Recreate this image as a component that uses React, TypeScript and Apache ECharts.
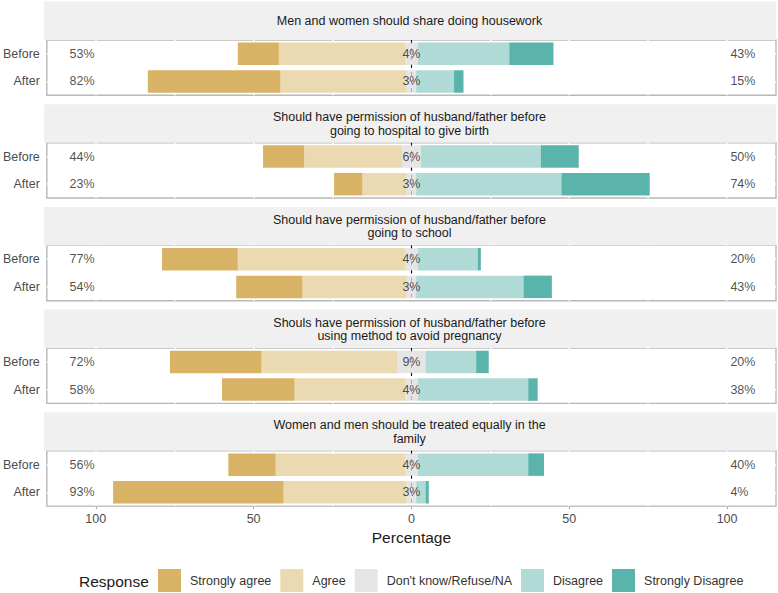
import React, { useEffect, useRef } from "react";
import * as echarts from "echarts";

const facetTitles = [
  "Men and women should share doing housework",
  "Should have permission of husband/father before\ngoing to hospital to give birth",
  "Should have permission of husband/father before\ngoing to school",
  "Shouls have permission of husband/father before\nusing method to avoid pregnancy",
  "Women and men should be treated equally in the\nfamily",
];
const periods = ["Before", "After"];
const responses = ["Strongly agree", "Agree", "Don't know/Refuse/NA", "Disagree", "Strongly Disagree"];
const colors = ["#d8b365", "#ebd9b1", "#e5e5e5", "#b0dad6", "#5ab4ac"];

// [Before, After] per facet
const stronglyAgree = [[13, 42], [13, 9], [24, 21], [29, 23], [15, 54]];
const agree = [[40, 40], [31, 14], [53, 33], [43, 35], [41, 39]];
const neutral = [[4, 3], [6, 3], [4, 3], [9, 4], [4, 3]];
const disagree = [[29, 12], [38, 46], [19, 34], [16, 35], [35, 3]];
const stronglyDisagree = [[14, 3], [12, 28], [1, 9], [4, 3], [5, 1]];

const xTicks = [-100, -50, 0, 50, 100];
const gridLines = [-100, -75, -50, -25, 25, 50, 75, 100];

const PANEL_LEFT = 44;
const PANEL_WIDTH = 732;
const PANEL_TOP0 = 40;
const PANEL_STEP = 102.7;
const PANEL_HEIGHT = 55.3;
const STRIP_HEIGHT = 38.5;
const FONT = "'Liberation Sans', Arial, Helvetica, sans-serif";

export default function App() {
  const ref = useRef<HTMLDivElement>(null);
  useEffect(() => {
    if (!ref.current) return;
    const chart = echarts.init(ref.current, undefined, { renderer: "svg" });
    const grids: any[] = [];
    const xAxes: any[] = [];
    const yAxes: any[] = [];
    const series: any[] = [];
    const graphics: any[] = [];
    const n = facetTitles.length;

    facetTitles.forEach((title, i) => {
      const top = PANEL_TOP0 + PANEL_STEP * i;
      const last = i === n - 1;
      grids.push({
        left: PANEL_LEFT,
        top,
        width: PANEL_WIDTH,
        height: PANEL_HEIGHT,
        show: true,
        backgroundColor: "#ffffff",
        borderColor: "#b8b8b8",
        borderWidth: 1.4,
      });
      xAxes.push({
        type: "value",
        gridIndex: i,
        min: -115.5,
        max: 115.5,
        axisLine: { show: false },
        splitLine: { show: false },
        axisTick: last
          ? { show: true, length: 3, customValues: xTicks, lineStyle: { color: "#b3b3b3", width: 1.2 } }
          : { show: false },
        axisLabel: last
          ? {
              show: true,
              customValues: xTicks,
              formatter: (v: number) => String(Math.abs(v)),
              color: "#4d4d4d",
              fontSize: 12.5,
              margin: 6,
              fontFamily: FONT,
            }
          : { show: false },
        name: last ? "Percentage" : "",
        nameLocation: "middle",
        nameGap: 23,
        nameTextStyle: { fontSize: 15.5, color: "#1a1a1a", fontFamily: FONT },
      });
      yAxes.push({
        type: "category",
        gridIndex: i,
        data: periods,
        inverse: true,
        axisLine: { show: false },
        splitLine: { show: false },
        axisTick: { show: true, length: 3, alignWithLabel: true, lineStyle: { color: "#b3b3b3", width: 1.2 } },
        axisLabel: { color: "#4d4d4d", fontSize: 12.5, margin: 7, fontFamily: FONT },
      });

      const common = {
        type: "bar",
        stack: "s" + i,
        xAxisIndex: i,
        yAxisIndex: i,
        barWidth: 22.5,
        silent: true,
        emphasis: { disabled: true },
      };
      series.push({
        ...common,
        name: responses[2],
        itemStyle: { color: colors[2] },
        data: neutral[i].map((v) => -v / 2),
        markLine: {
          silent: true,
          z: 1,
          symbol: ["none", "none"],
          label: { show: false },
          emphasis: { disabled: true },
          lineStyle: { color: "#ffffff", width: 1.6, type: "solid" },
          data: [
            ...gridLines.map((v) => ({ xAxis: v })),
            ...periods.map((p) => ({ yAxis: p })),
            { xAxis: 0, lineStyle: { color: "#000000", width: 1.1, type: [4, 4] } },
          ],
        },
      });
      series.push({ ...common, name: responses[1], itemStyle: { color: colors[1] }, data: agree[i].map((v) => -v) });
      series.push({ ...common, name: responses[0], itemStyle: { color: colors[0] }, data: stronglyAgree[i].map((v) => -v) });
      series.push({ ...common, name: responses[2], itemStyle: { color: colors[2] }, data: neutral[i].map((v) => v / 2) });
      series.push({ ...common, name: responses[3], itemStyle: { color: colors[3] }, data: disagree[i] });
      series.push({ ...common, name: responses[4], itemStyle: { color: colors[4] }, data: stronglyDisagree[i] });

      const labelData: any[] = [];
      periods.forEach((p, j) => {
        const left = stronglyAgree[i][j] + agree[i][j];
        const right = disagree[i][j] + stronglyDisagree[i][j];
        labelData.push({ value: [-100.2, p, left + "%"], label: { position: "left" } });
        labelData.push({ value: [0, p, neutral[i][j] + "%"], label: { position: "inside" } });
        labelData.push({ value: [100.9, p, right + "%"], label: { position: "right" } });
      });
      series.push({
        type: "scatter",
        xAxisIndex: i,
        yAxisIndex: i,
        symbolSize: 1,
        silent: true,
        z: 5,
        itemStyle: { color: "transparent" },
        emphasis: { disabled: true },
        label: {
          show: true,
          distance: 0,
          color: "#1f1f1f",
          fontSize: 12.5,
          fontFamily: FONT,
          formatter: (pp: any) => pp.value[2],
        },
        data: labelData,
      });

      graphics.push({
        type: "rect",
        shape: { x: PANEL_LEFT, y: top - STRIP_HEIGHT, width: PANEL_WIDTH, height: STRIP_HEIGHT },
        style: { fill: "#f0f0f0" },
        silent: true,
      });
      graphics.push({
        type: "text",
        x: PANEL_LEFT + PANEL_WIDTH / 2 - 0.5,
        y: top - STRIP_HEIGHT / 2 + 0.5,
        silent: true,
        style: {
          text: title,
          fill: "#1a1a1a",
          fontSize: 12.5,
          fontFamily: FONT,
          lineHeight: 13.5,
          align: "center",
          verticalAlign: "middle",
        },
      });
    });

    graphics.push({
      type: "text",
      x: 79,
      y: 581,
      silent: true,
      style: {
        text: "Response",
        fill: "#1a1a1a",
        fontSize: 15.5,
        fontFamily: FONT,
        align: "left",
        verticalAlign: "middle",
      },
    });

    chart.setOption({
      animation: false,
      textStyle: { fontFamily: FONT },
      grid: grids,
      xAxis: xAxes,
      yAxis: yAxes,
      series,
      graphic: graphics,
      legend: {
        data: responses,
        left: 158,
        top: 569,
        padding: 0,
        itemWidth: 23,
        itemHeight: 23,
        itemGap: 9,
        icon: "rect",
        selectedMode: false,
        itemStyle: { borderWidth: 0 },
        textStyle: { fontSize: 12.5, color: "#333333", fontFamily: FONT, padding: [0, 0, 0, 4] },
      },
    });
    return () => chart.dispose();
  }, []);
  return (
    <div
      ref={ref}
      style={{ position: "absolute", left: 0, top: 0, width: 778, height: 593 }}
    />
  );
}
